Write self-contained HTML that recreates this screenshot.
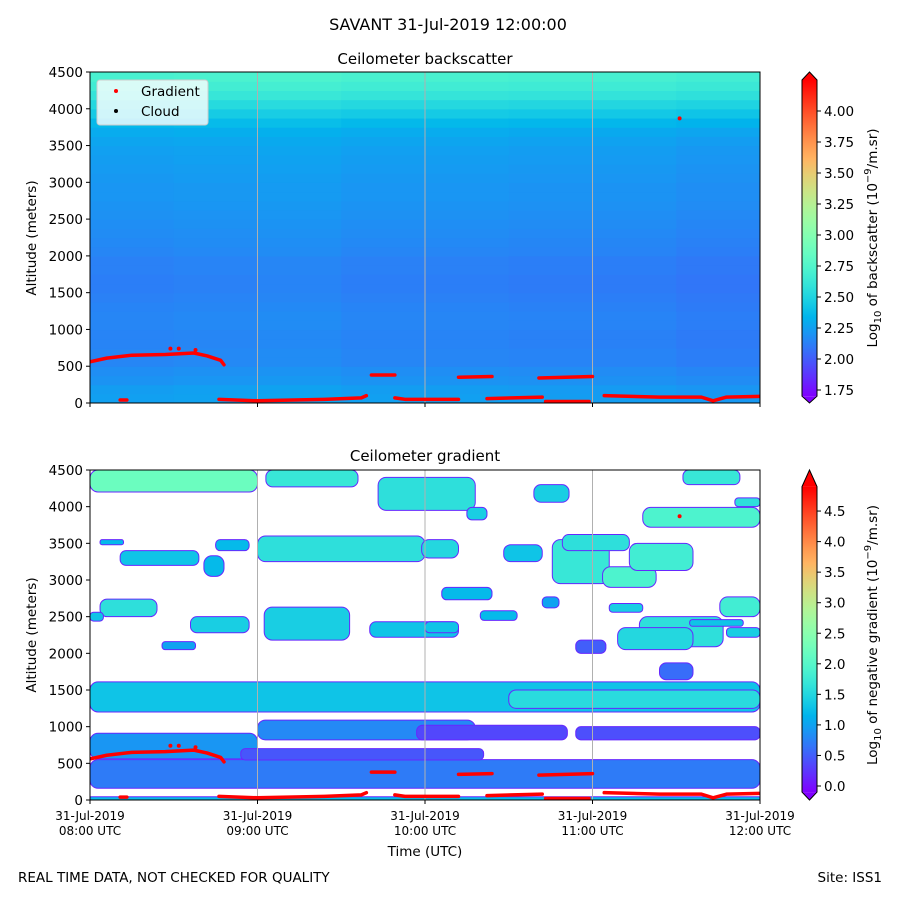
<!DOCTYPE html>
<html><head><meta charset="utf-8"><style>
body{margin:0;background:#fff}
svg{display:block;font-family:"DejaVu Sans","Liberation Sans",sans-serif}
</style></head><body>
<svg id="fig" width="900" height="900" viewBox="0 0 900 900" xmlns="http://www.w3.org/2000/svg">
<defs>
<linearGradient id="cb1" x1="0" y1="1" x2="0" y2="0"></linearGradient>
<linearGradient id="cb2" x1="0" y1="1" x2="0" y2="0"></linearGradient>
<clipPath id="clipTop"><rect x="90" y="72" width="670" height="331"/></clipPath>
<clipPath id="clipBot"><rect x="90" y="470" width="670" height="330"/></clipPath>
</defs>
<text x="448" y="30" font-size="16" text-anchor="middle">SAVANT 31-Jul-2019 12:00:00</text>
<text x="425" y="64" font-size="15" text-anchor="middle">Ceilometer backscatter</text>
<text x="425" y="461" font-size="15" text-anchor="middle">Ceilometer gradient</text>
<g id="topPlot"></g>
<g id="botPlot"></g>
<g id="axes"></g>
<g id="legend">
<rect x="97" y="80" width="111" height="45" rx="3" fill="#fff" fill-opacity="0.8" stroke="#ccc"/>
<circle cx="116" cy="91" r="2" fill="red"/>
<text x="141" y="96" font-size="13.5">Gradient</text>
<circle cx="116" cy="111" r="2" fill="#000"/>
<text x="141" y="116" font-size="13.5">Cloud</text>
</g>
<text transform="translate(36,238) rotate(-90)" font-size="13.5" text-anchor="middle">Altitude (meters)</text>
<text transform="translate(36,635) rotate(-90)" font-size="13.5" text-anchor="middle">Altitude (meters)</text>
<text x="425" y="856" font-size="13.5" text-anchor="middle">Time (UTC)</text>
<text transform="translate(877,238) rotate(-90)" font-size="13.5" text-anchor="middle">Log<tspan font-size="10" dy="4">10</tspan><tspan dy="-4"> of backscatter (10</tspan><tspan font-size="10" dy="-6">−9</tspan><tspan dy="6">/m.sr)</tspan></text>
<text transform="translate(877,635) rotate(-90)" font-size="13.5" text-anchor="middle">Log<tspan font-size="10" dy="4">10</tspan><tspan dy="-4"> of negative gradient (10</tspan><tspan font-size="10" dy="-6">−9</tspan><tspan dy="6">/m.sr)</tspan></text>
<text x="18" y="882" font-size="13.5">REAL TIME DATA, NOT CHECKED FOR QUALITY</text>
<text x="882" y="882" font-size="13.5" text-anchor="end">Site: ISS1</text>
</svg>
<script>
// ---- data ----
const xTicks = [8, 9, 10, 11, 12];
const xTickLabels = ["08:00 UTC", "09:00 UTC", "10:00 UTC", "11:00 UTC", "12:00 UTC"];
const yTicks = [0, 500, 1000, 1500, 2000, 2500, 3000, 3500, 4000, 4500];
const cb1Ticks = [1.75, 2.0, 2.25, 2.5, 2.75, 3.0, 3.25, 3.5, 3.75, 4.0];
const cb2Ticks = [0, 0.5, 1, 1.5, 2, 2.5, 3, 3.5, 4, 4.5];
// backscatter profile: 125 m bins from 0 m upward
const bsProfile = [2.25,2.24,2.2,2.18,2.15,2.15,2.14,2.14,2.15,2.15,2.14,2.13,2.12,2.12,2.13,2.13,2.15,2.16,2.17,2.18,2.19,2.2,2.21,2.21,2.22,2.23,2.24,2.25,2.27,2.3,2.36,2.44,2.52,2.6,2.66,2.7];
// per 30-min column anomaly
const bsColAnom = [0.0, 0.01, 0.02, 0.0, 0.0, -0.01, -0.01, -0.03];
// gradient blobs: start hour, end hour, low alt, high alt, value
const blobT0 = [8.0,9.05,9.72,8.06,8.18,8.68,8.75,9.0,9.98,8.06,8.0,8.6,8.43,9.04,9.67,10.0,10.25,10.47,10.76,11.06,11.54,11.85,11.3,10.65,10.82,11.22,11.28,11.76,10.1,10.7,10.33,11.1,11.15,11.58,11.8,10.9,11.4,
8.0,8.0,9.0,8.9,9.95,10.9,8.0,10.5,8.0];
const blobT1 = [9.0,9.6,10.3,8.2,8.65,8.8,8.95,10.0,10.2,8.4,8.08,8.95,8.63,9.55,10.2,10.2,10.37,10.7,11.1,11.38,11.88,12.0,12.0,10.86,11.22,11.6,11.78,12.0,10.4,10.8,10.55,11.3,11.6,11.9,12.0,11.08,11.6,
9.0,12.0,10.3,10.35,10.85,12.0,12.0,12.0,12.0];
const blobA0 = [4200,4270,3950,3480,3200,3050,3400,3250,3300,2500,2440,2280,2050,2180,2220,2280,3820,3250,2950,2900,4300,4000,3720,4060,3400,3130,2090,2500,2730,2620,2450,2560,2050,2370,2220,2000,1640,
560,160,820,545,820,820,1200,1250,0];
const blobA1 = [4500,4500,4400,3550,3400,3330,3550,3600,3550,2740,2560,2500,2160,2630,2430,2430,3990,3480,3550,3180,4500,4120,3990,4300,3620,3500,2500,2770,2900,2770,2580,2680,2350,2460,2350,2180,1870,
910,550,1090,700,1020,1000,1610,1500,45];
const blobV = [2.2,1.7,1.6,1.2,1.3,1.2,1.2,1.6,1.5,1.6,1.3,1.4,1.0,1.4,1.3,1.3,1.4,1.3,1.7,1.9,1.7,1.6,1.9,1.4,1.6,1.8,1.6,1.8,1.2,1.0,1.2,1.4,1.5,1.3,1.4,0.5,0.6,
0.9,0.7,0.8,0.45,0.35,0.4,1.3,1.55,1.2];
// gradient points (time hour, altitude m) as connected runs
const gradRuns = [
 [[8.0,560],[8.1,610],[8.25,650],[8.45,660],[8.62,680],[8.7,640],[8.78,580],[8.8,520]],
 [[8.18,40],[8.22,40]],
 [[8.77,50],[9.0,30],[9.4,50],[9.62,70],[9.65,100]],
 [[9.68,380],[9.82,380]],
 [[9.82,70],[9.88,50],[10.2,50]],
 [[10.2,350],[10.4,360]],
 [[10.37,60],[10.7,80]],
 [[10.68,340],[11.0,360]],
 [[10.72,20],[10.98,20]],
 [[11.07,100],[11.4,80],[11.65,80],[11.72,30],[11.8,80],[12.0,90]]
];
const gradSingleT = [8.48, 8.53, 8.63, 11.52];
const gradSingleA = [740, 740, 720, 3870];

// ---- scales ----
const X0 = 90, X1 = 760;
const xs = h => X0 + (h - 8) / 4 * (X1 - X0);
const ysTop = a => 403 - a / 4500 * 331;
const ysBot = a => 800 - a / 4500 * 330;
const V1MIN = 1.7, V1MAX = 4.25, V2MIN = -0.1, V2MAX = 4.9;
const cb1Y = v => 111 + (4.0 - v) * 124;
const cb2Y = v => 786 - v * 61.1;
function rainbow(x){
  x = Math.max(0, Math.min(1, x));
  const r = Math.min(1, Math.abs(2*x - 0.5)), g = Math.sin(Math.PI*x), b = Math.cos(Math.PI*x/2);
  return `rgb(${Math.round(r*255)},${Math.round(g*255)},${Math.round(b*255)})`;
}
const c1 = v => rainbow((v - V1MIN) / (V1MAX - V1MIN));
const c2 = v => rainbow((v - V2MIN) / (V2MAX - V2MIN));
const NS = "http://www.w3.org/2000/svg";
function mk(tag, attrs, parent){
  const e = document.createElementNS(NS, tag);
  for (const k in attrs) e.setAttribute(k, attrs[k]);
  parent.appendChild(e); return e;
}
const topG = document.getElementById('topPlot');
const botG = document.getElementById('botPlot');
const axesG = document.getElementById('axes');

// ---- top heatmap ----
const gTop = mk('g', {'clip-path':'url(#clipTop)'}, topG);
const nCol = bsColAnom.length;
bsColAnom.forEach((an, ci) => {
  const t0 = 8 + 4*ci/nCol, t1 = 8 + 4*(ci+1)/nCol;
  bsProfile.forEach((v, ri) => {
    const y0 = ysTop((ri+1)*125), y1 = ysTop(ri*125);
    const r = mk('rect', {x: xs(t0), y: y0, width: xs(t1)-xs(t0)+0.6, height: y1-y0+0.6, fill: c1(v + an)}, gTop);
    
    
  });
});

// ---- bottom blobs ----
const gBot = mk('g', {'clip-path':'url(#clipBot)'}, botG);
blobV.forEach((v, i) => {
  const x0 = xs(blobT0[i]), x1 = xs(blobT1[i]), y0 = ysBot(blobA1[i]), y1 = ysBot(blobA0[i]);
  const r = mk('rect', {x: x0, y: y0, width: x1-x0, height: y1-y0, rx: Math.min(8,(y1-y0)/2.5), fill: c2(v), stroke: c2(0.15), 'stroke-width': 1}, gBot);
  
  
});

// ---- grid lines ----
[topG, botG].forEach((g, pi) => {
  [9, 10, 11].forEach(h => {
    const l = mk('line', {x1: xs(h), x2: xs(h), y1: pi ? 470 : 72, y2: pi ? 800 : 403, stroke: '#b0b0b0', 'stroke-width': 1}, g);
    
    
  });
});

// ---- gradient points ----
[[topG, ysTop, 'clipTop'], [botG, ysBot, 'clipBot']].forEach(([g, ys, clip]) => {
  const gg = mk('g', {'clip-path': `url(#${clip})`}, g);
  gradRuns.forEach(run => {
    const p = mk('polyline', {points: run.map(p => xs(p[0]) + ',' + ys(p[1])).join(' '), fill: 'none', stroke: 'red', 'stroke-width': 3.5, 'stroke-linecap': 'round', 'stroke-linejoin': 'round'}, gg);
    
    
  });
  gradSingleT.forEach((t, i) => {
    const c = mk('circle', {cx: xs(t), cy: ys(gradSingleA[i]), r: 2, fill: 'red'}, gg);
    
    
  });
});

// ---- axes frames & ticks ----
[[72, 403, ysTop, false], [470, 800, ysBot, true]].forEach(([yt, yb, ys, labels]) => {
  const fr = mk('rect', {x: X0, y: yt, width: X1-X0, height: yb-yt, fill: 'none', stroke: '#000', 'stroke-width': 1}, axesG);
  
  
  yTicks.forEach(a => {
    const y = ys(a);
    mk('line', {x1: X0-4, x2: X0, y1: y, y2: y, stroke: '#000'}, axesG);
    const t = mk('text', {x: X0-7, y: y+5, 'font-size': 13.5, 'text-anchor': 'end'}, axesG);
    t.textContent = a;
    
    
  });
  xTicks.forEach((h, i) => {
    const x = xs(h);
    mk('line', {x1: x, x2: x, y1: yb, y2: yb+4, stroke: '#000'}, axesG);
    if (labels) {
      const t1 = mk('text', {x: x, y: yb+20, 'font-size': 12, 'text-anchor': 'middle'}, axesG);
      t1.textContent = '31-Jul-2019';
      
      
      const t2 = mk('text', {x: x, y: yb+35, 'font-size': 12, 'text-anchor': 'middle'}, axesG);
      t2.textContent = xTickLabels[i];
      
      
    }
  });
});

// ---- colorbars ----
function colorbar(gradId, cmin, cmax, cfn, yfn, ticks, dec, topTri, botTri, name){
  const grad = document.getElementById(gradId);
  for (let i = 0; i <= 20; i++) {
    const v = cmin + (cmax - cmin) * i / 20;
    mk('stop', {offset: (i/20*100) + '%', 'stop-color': cfn(v)}, grad);
  }
  const yT = yfn(cmax), yB = yfn(cmin);
  const g = mk('g', {}, axesG);
  
  
  mk('rect', {x: 802, y: yT, width: 15, height: yB - yT, fill: `url(#${gradId})`}, g);
  mk('polygon', {points: `802,${yT} 817,${yT} 809.5,${topTri}`, fill: cfn(cmax+1)}, g);
  mk('polygon', {points: `802,${yB} 817,${yB} 809.5,${botTri}`, fill: cfn(cmin-1)}, g);
  mk('polygon', {points: `802,${yB} 802,${yT} 809.5,${topTri} 817,${yT} 817,${yB} 809.5,${botTri}`, fill: 'none', stroke: '#000', 'stroke-width': 1}, g);
  ticks.forEach(v => {
    const y = yfn(v);
    mk('line', {x1: 817, x2: 821, y1: y, y2: y, stroke: '#000'}, g);
    const t = mk('text', {x: 824, y: y+5, 'font-size': 13.5}, g);
    t.textContent = v.toFixed(dec);
    
    
  });
}
colorbar('cb1', V1MIN, V1MAX, c1, cb1Y, cb1Ticks, 2, 72, 403, 'backscatter-colorbar');
colorbar('cb2', V2MIN, V2MAX, c2, cb2Y, cb2Ticks, 1, 470, 800, 'gradient-colorbar');
</script>
</body></html>
